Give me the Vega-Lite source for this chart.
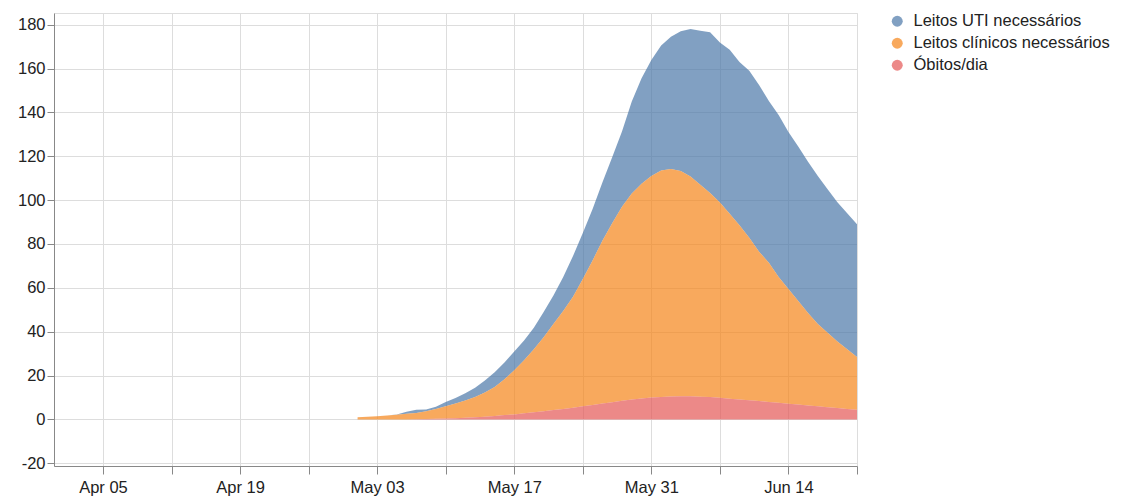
{
  "$schema": "https://vega.github.io/schema/vega-lite/v6.json",
  "width": 803,
  "height": 453,
  "padding": {"left": 17, "top": 13, "right": 5, "bottom": 5},
  "config": {
    "font": "Liberation Sans",
    "view": {"stroke": "#ddd"},
    "axis": {"labelFontSize": 16.5, "labelColor": "#222", "domainColor": "#888", "tickColor": "#888", "gridColor": "#ddd", "tickSize": 8, "labelPadding": 2}
  },
  "data": {
    "format": {"parse": {"d": "date:'%Y-%m-%d'"}},
    "values": [
      {"d":"2020-05-01","s":"Leitos UTI necessários","v":0},{"d":"2020-05-01","s":"Leitos clínicos necessários","v":1.0},{"d":"2020-05-01","s":"Óbitos/dia","v":0},
      {"d":"2020-05-02","s":"Leitos UTI necessários","v":0},{"d":"2020-05-02","s":"Leitos clínicos necessários","v":1.2},{"d":"2020-05-02","s":"Óbitos/dia","v":0},
      {"d":"2020-05-03","s":"Leitos UTI necessários","v":0},{"d":"2020-05-03","s":"Leitos clínicos necessários","v":1.5},{"d":"2020-05-03","s":"Óbitos/dia","v":0},
      {"d":"2020-05-04","s":"Leitos UTI necessários","v":0},{"d":"2020-05-04","s":"Leitos clínicos necessários","v":1.8},{"d":"2020-05-04","s":"Óbitos/dia","v":0},
      {"d":"2020-05-05","s":"Leitos UTI necessários","v":0.1},{"d":"2020-05-05","s":"Leitos clínicos necessários","v":2.2},{"d":"2020-05-05","s":"Óbitos/dia","v":0},
      {"d":"2020-05-06","s":"Leitos UTI necessários","v":0.9},{"d":"2020-05-06","s":"Leitos clínicos necessários","v":2.6},{"d":"2020-05-06","s":"Óbitos/dia","v":0},
      {"d":"2020-05-07","s":"Leitos UTI necessários","v":1.4},{"d":"2020-05-07","s":"Leitos clínicos necessários","v":2.9},{"d":"2020-05-07","s":"Óbitos/dia","v":0.1},
      {"d":"2020-05-08","s":"Leitos UTI necessários","v":0.8},{"d":"2020-05-08","s":"Leitos clínicos necessários","v":3.6},{"d":"2020-05-08","s":"Óbitos/dia","v":0.2},
      {"d":"2020-05-09","s":"Leitos UTI necessários","v":1.0},{"d":"2020-05-09","s":"Leitos clínicos necessários","v":4.5},{"d":"2020-05-09","s":"Óbitos/dia","v":0.3},
      {"d":"2020-05-10","s":"Leitos UTI necessários","v":2.0},{"d":"2020-05-10","s":"Leitos clínicos necessários","v":5.6},{"d":"2020-05-10","s":"Óbitos/dia","v":0.4},
      {"d":"2020-05-11","s":"Leitos UTI necessários","v":2.5},{"d":"2020-05-11","s":"Leitos clínicos necessários","v":6.7},{"d":"2020-05-11","s":"Óbitos/dia","v":0.6},
      {"d":"2020-05-12","s":"Leitos UTI necessários","v":3.3},{"d":"2020-05-12","s":"Leitos clínicos necessários","v":7.9},{"d":"2020-05-12","s":"Óbitos/dia","v":0.8},
      {"d":"2020-05-13","s":"Leitos UTI necessários","v":4.3},{"d":"2020-05-13","s":"Leitos clínicos necessários","v":9.2},{"d":"2020-05-13","s":"Óbitos/dia","v":1.0},
      {"d":"2020-05-14","s":"Leitos UTI necessários","v":5.5},{"d":"2020-05-14","s":"Leitos clínicos necessários","v":11.0},{"d":"2020-05-14","s":"Óbitos/dia","v":1.3},
      {"d":"2020-05-15","s":"Leitos UTI necessários","v":6.7},{"d":"2020-05-15","s":"Leitos clínicos necessários","v":13.2},{"d":"2020-05-15","s":"Óbitos/dia","v":1.6},
      {"d":"2020-05-16","s":"Leitos UTI necessários","v":7.7},{"d":"2020-05-16","s":"Leitos clínicos necessários","v":16.3},{"d":"2020-05-16","s":"Óbitos/dia","v":2.0},
      {"d":"2020-05-17","s":"Leitos UTI necessários","v":8.5},{"d":"2020-05-17","s":"Leitos clínicos necessários","v":20.2},{"d":"2020-05-17","s":"Óbitos/dia","v":2.3},
      {"d":"2020-05-18","s":"Leitos UTI necessários","v":9.0},{"d":"2020-05-18","s":"Leitos clínicos necessários","v":24.2},{"d":"2020-05-18","s":"Óbitos/dia","v":2.8},
      {"d":"2020-05-19","s":"Leitos UTI necessários","v":9.8},{"d":"2020-05-19","s":"Leitos clínicos necessários","v":28.7},{"d":"2020-05-19","s":"Óbitos/dia","v":3.3},
      {"d":"2020-05-20","s":"Leitos UTI necessários","v":11.5},{"d":"2020-05-20","s":"Leitos clínicos necessários","v":33.7},{"d":"2020-05-20","s":"Óbitos/dia","v":3.8},
      {"d":"2020-05-21","s":"Leitos UTI necessários","v":13.0},{"d":"2020-05-21","s":"Leitos clínicos necessários","v":39.2},{"d":"2020-05-21","s":"Óbitos/dia","v":4.3},
      {"d":"2020-05-22","s":"Leitos UTI necessários","v":15.5},{"d":"2020-05-22","s":"Leitos clínicos necessários","v":44.7},{"d":"2020-05-22","s":"Óbitos/dia","v":4.8},
      {"d":"2020-05-23","s":"Leitos UTI necessários","v":18.5},{"d":"2020-05-23","s":"Leitos clínicos necessários","v":50.6},{"d":"2020-05-23","s":"Óbitos/dia","v":5.4},
      {"d":"2020-05-24","s":"Leitos UTI necessários","v":21.0},{"d":"2020-05-24","s":"Leitos clínicos necessários","v":58.0},{"d":"2020-05-24","s":"Óbitos/dia","v":6.0},
      {"d":"2020-05-25","s":"Leitos UTI necessários","v":23.5},{"d":"2020-05-25","s":"Leitos clínicos necessários","v":65.9},{"d":"2020-05-25","s":"Óbitos/dia","v":6.6},
      {"d":"2020-05-26","s":"Leitos UTI necessários","v":26.5},{"d":"2020-05-26","s":"Leitos clínicos necessários","v":74.2},{"d":"2020-05-26","s":"Óbitos/dia","v":7.3},
      {"d":"2020-05-27","s":"Leitos UTI necessários","v":30.0},{"d":"2020-05-27","s":"Leitos clínicos necessários","v":81.6},{"d":"2020-05-27","s":"Óbitos/dia","v":7.9},
      {"d":"2020-05-28","s":"Leitos UTI necessários","v":34.3},{"d":"2020-05-28","s":"Leitos clínicos necessários","v":88.5},{"d":"2020-05-28","s":"Óbitos/dia","v":8.5},
      {"d":"2020-05-29","s":"Leitos UTI necessários","v":42.0},{"d":"2020-05-29","s":"Leitos clínicos necessários","v":93.9},{"d":"2020-05-29","s":"Óbitos/dia","v":9.1},
      {"d":"2020-05-30","s":"Leitos UTI necessários","v":48.0},{"d":"2020-05-30","s":"Leitos clínicos necessários","v":97.9},{"d":"2020-05-30","s":"Óbitos/dia","v":9.6},
      {"d":"2020-05-31","s":"Leitos UTI necessários","v":52.9},{"d":"2020-05-31","s":"Leitos clínicos necessários","v":101.0},{"d":"2020-05-31","s":"Óbitos/dia","v":10.0},
      {"d":"2020-06-01","s":"Leitos UTI necessários","v":57.0},{"d":"2020-06-01","s":"Leitos clínicos necessários","v":103.2},{"d":"2020-06-01","s":"Óbitos/dia","v":10.3},
      {"d":"2020-06-02","s":"Leitos UTI necessários","v":60.3},{"d":"2020-06-02","s":"Leitos clínicos necessários","v":103.7},{"d":"2020-06-02","s":"Óbitos/dia","v":10.5},
      {"d":"2020-06-03","s":"Leitos UTI necessários","v":63.7},{"d":"2020-06-03","s":"Leitos clínicos necessários","v":102.7},{"d":"2020-06-03","s":"Óbitos/dia","v":10.6},
      {"d":"2020-06-04","s":"Leitos UTI necessários","v":67.2},{"d":"2020-06-04","s":"Leitos clínicos necessários","v":100.2},{"d":"2020-06-04","s":"Óbitos/dia","v":10.6},
      {"d":"2020-06-05","s":"Leitos UTI necessários","v":70.2},{"d":"2020-06-05","s":"Leitos clínicos necessários","v":96.6},{"d":"2020-06-05","s":"Óbitos/dia","v":10.4},
      {"d":"2020-06-06","s":"Leitos UTI necessários","v":73.3},{"d":"2020-06-06","s":"Leitos clínicos necessários","v":93.0},{"d":"2020-06-06","s":"Óbitos/dia","v":10.2},
      {"d":"2020-06-07","s":"Leitos UTI necessários","v":72.9},{"d":"2020-06-07","s":"Leitos clínicos necessários","v":89.0},{"d":"2020-06-07","s":"Óbitos/dia","v":9.9},
      {"d":"2020-06-08","s":"Leitos UTI necessários","v":74.8},{"d":"2020-06-08","s":"Leitos clínicos necessários","v":84.3},{"d":"2020-06-08","s":"Óbitos/dia","v":9.5},
      {"d":"2020-06-09","s":"Leitos UTI necessários","v":74.5},{"d":"2020-06-09","s":"Leitos clínicos necessários","v":79.4},{"d":"2020-06-09","s":"Óbitos/dia","v":9.1},
      {"d":"2020-06-10","s":"Leitos UTI necessários","v":76.2},{"d":"2020-06-10","s":"Leitos clínicos necessários","v":74.0},{"d":"2020-06-10","s":"Óbitos/dia","v":8.8},
      {"d":"2020-06-11","s":"Leitos UTI necessários","v":76.0},{"d":"2020-06-11","s":"Leitos clínicos necessários","v":68.1},{"d":"2020-06-11","s":"Óbitos/dia","v":8.4},
      {"d":"2020-06-12","s":"Leitos UTI necessários","v":73.7},{"d":"2020-06-12","s":"Leitos clínicos necessários","v":63.5},{"d":"2020-06-12","s":"Óbitos/dia","v":8.0},
      {"d":"2020-06-13","s":"Leitos UTI necessários","v":73.8},{"d":"2020-06-13","s":"Leitos clínicos necessários","v":57.4},{"d":"2020-06-13","s":"Óbitos/dia","v":7.6},
      {"d":"2020-06-14","s":"Leitos UTI necessários","v":71.5},{"d":"2020-06-14","s":"Leitos clínicos necessários","v":52.3},{"d":"2020-06-14","s":"Óbitos/dia","v":7.2},
      {"d":"2020-06-15","s":"Leitos UTI necessários","v":70.5},{"d":"2020-06-15","s":"Leitos clínicos necessários","v":47.2},{"d":"2020-06-15","s":"Óbitos/dia","v":6.8},
      {"d":"2020-06-16","s":"Leitos UTI necessários","v":69.0},{"d":"2020-06-16","s":"Leitos clínicos necessários","v":42.1},{"d":"2020-06-16","s":"Óbitos/dia","v":6.4},
      {"d":"2020-06-17","s":"Leitos UTI necessários","v":67.5},{"d":"2020-06-17","s":"Leitos clínicos necessários","v":37.5},{"d":"2020-06-17","s":"Óbitos/dia","v":6.0},
      {"d":"2020-06-18","s":"Leitos UTI necessários","v":65.5},{"d":"2020-06-18","s":"Leitos clínicos necessários","v":33.9},{"d":"2020-06-18","s":"Óbitos/dia","v":5.6},
      {"d":"2020-06-19","s":"Leitos UTI necessários","v":63.5},{"d":"2020-06-19","s":"Leitos clínicos necessários","v":30.3},{"d":"2020-06-19","s":"Óbitos/dia","v":5.2},
      {"d":"2020-06-20","s":"Leitos UTI necessários","v":62.0},{"d":"2020-06-20","s":"Leitos clínicos necessários","v":27.2},{"d":"2020-06-20","s":"Óbitos/dia","v":4.8},
      {"d":"2020-06-21","s":"Leitos UTI necessários","v":60.5},{"d":"2020-06-21","s":"Leitos clínicos necessários","v":24.1},{"d":"2020-06-21","s":"Óbitos/dia","v":4.4}
    ]
  },
  "mark": {"type": "area", "opacity": 0.7},
  "encoding": {
    "x": {
      "field": "d", "type": "temporal", "title": null,
      "scale": {"domain": [{"year": 2020, "month": "mar", "date": 31}, {"year": 2020, "month": "jun", "date": 21}], "nice": false},
      "axis": {
        "tickCount": {"interval": "week", "step": 1},
        "labelOverlap": false,
        "labelFlush": false,
        "labelPadding": 5,
        "labelExpr": "round((datum.value - datetime(2020,3,5)) / 604800000) % 2 == 0 ? timeFormat(datum.value, '%b %d') : ''"
      }
    },
    "y": {
      "field": "v", "type": "quantitative", "title": null, "stack": "zero",
      "scale": {"domain": [-21.2, 185.3], "nice": false, "zero": false},
      "axis": {"values": [-20, 0, 20, 40, 60, 80, 100, 120, 140, 160, 180], "tickSize": 7, "labelExpr": "'' + datum.value"}
    },
    "color": {
      "field": "s", "type": "nominal", "title": null,
      "scale": {"domain": ["Leitos UTI necessários", "Leitos clínicos necessários", "Óbitos/dia"], "range": ["#4c78a8", "#f58518", "#e45756"]},
      "legend": {"symbolType": "circle", "symbolSize": 120, "symbolOpacity": 0.7, "labelFontSize": 16.5, "labelColor": "#222", "labelLimit": 400, "offset": 32, "rowPadding": 5, "padding": 0, "labelOffset": 8}
    }
  }
}
